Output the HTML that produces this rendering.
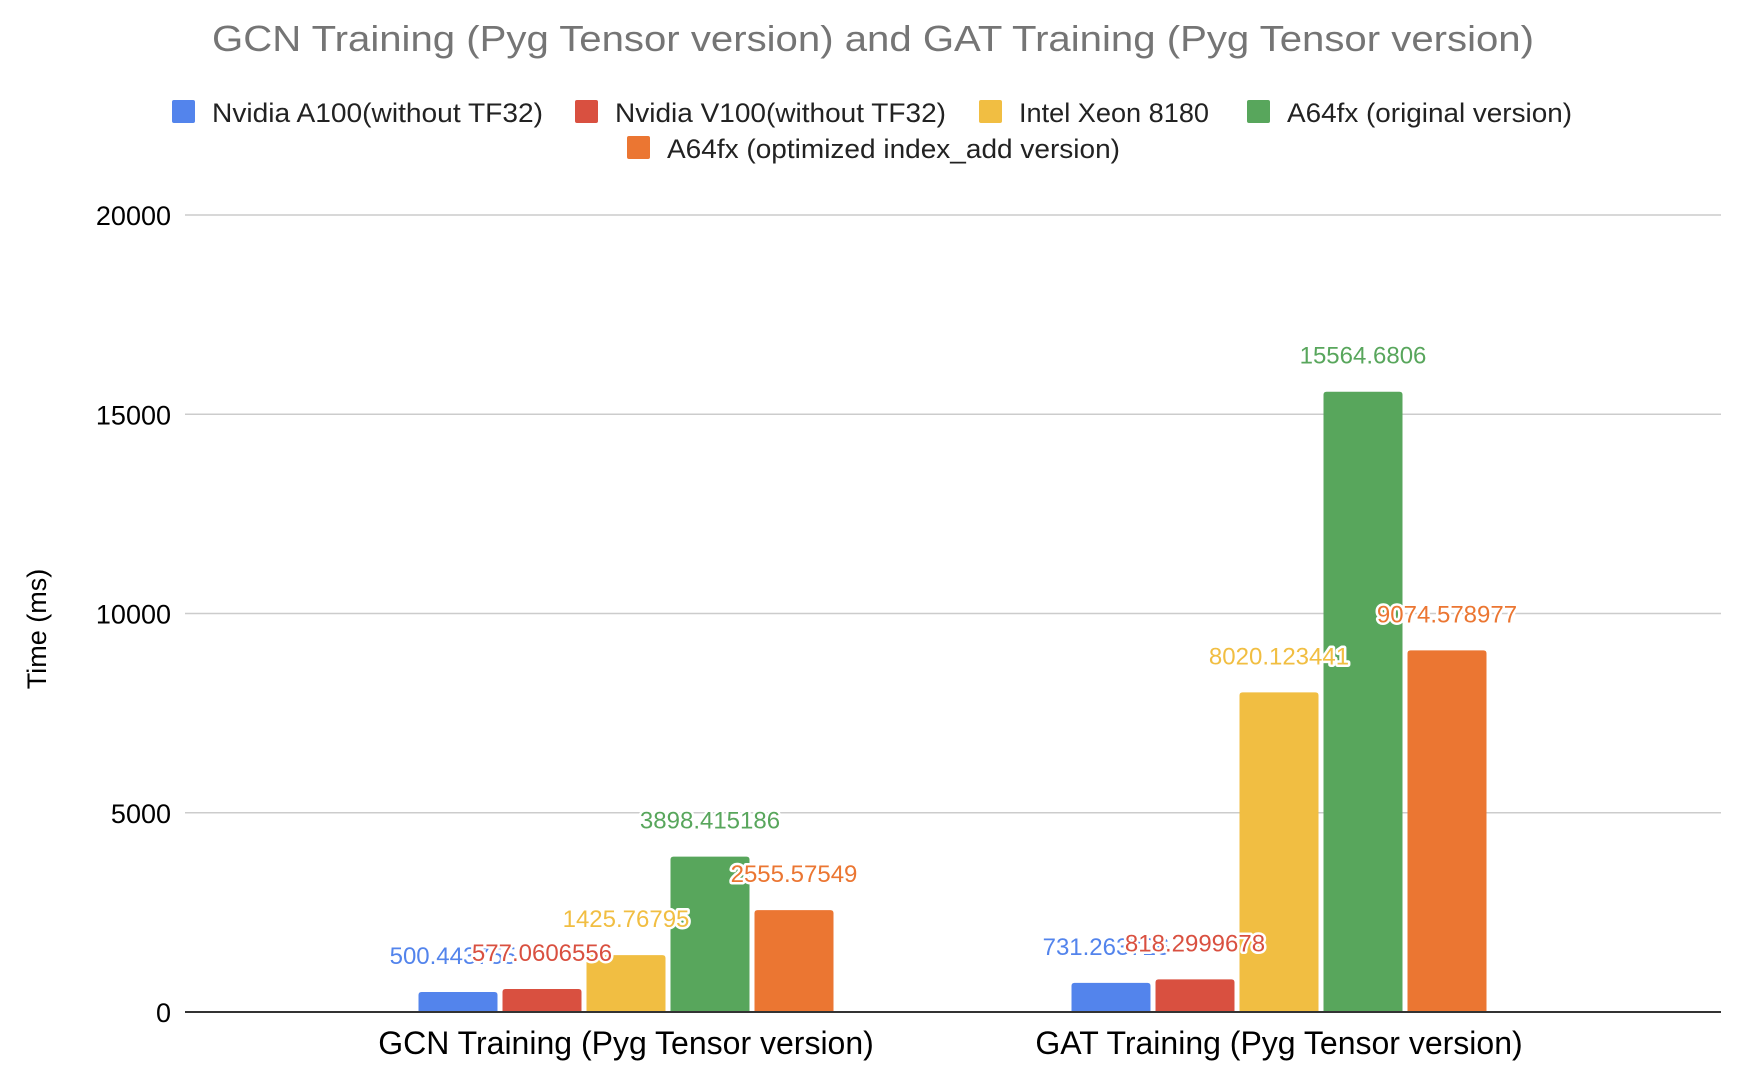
<!DOCTYPE html>
<html><head><meta charset="utf-8"><style>
html,body{margin:0;padding:0;background:#fff;}
svg{display:block;font-family:"Liberation Sans",Arial,sans-serif;}
.lbl{paint-order:stroke;stroke:#fff;stroke-width:5px;stroke-linejoin:round;}
</style></head><body>
<svg id="chart" width="1746" height="1080" viewBox="0 0 1746 1080">
<text x="873" y="51" text-anchor="middle" font-size="36" fill="#757575" textLength="1322" lengthAdjust="spacingAndGlyphs">GCN Training (Pyg Tensor version) and GAT Training (Pyg Tensor version)</text>
<g id="legend"></g>
<g id="grid"></g>
<g id="bars"></g>
<text transform="translate(46,629) rotate(-90)" text-anchor="middle" font-size="27" fill="#000">Time (ms)</text>
</svg>
<script>
const categories = ["GCN Training (Pyg Tensor version)", "GAT Training (Pyg Tensor version)"];
const seriesNames = ["Nvidia A100(without TF32)", "Nvidia V100(without TF32)", "Intel Xeon 8180", "A64fx (original version)", "A64fx (optimized index_add version)"];
const seriesColors = ["#5384ec", "#d95040", "#f1be42", "#58a65c", "#eb7632"];
const a100 = [500.443755, 731.263726];
const v100 = [577.0606556, 818.2999678];
const xeon = [1425.76795, 8020.123441];
const a64orig = [3898.415186, 15564.6806];
const a64opt = [2555.57549, 9074.578977];
const valueLabels = [["500.443755","731.263726"],["577.0606556","818.2999678"],["1425.76795","8020.123441"],["3898.415186","15564.6806"],["2555.57549","9074.578977"]];
const yTicks = [0, 5000, 10000, 15000, 20000];
const allSeries = [a100, v100, xeon, a64orig, a64opt];

const NS = "http://www.w3.org/2000/svg";
const plotL = 185, plotR = 1721, yBase = 1012, yTop = 215, yMax = 20000;
const bandStart = 299.5, band = 653, barW = 79, barStep = 84;
function yScale(v){ return yBase - (v / yMax) * (yBase - yTop); }
function xCenter(ci, si){ return bandStart + band * (ci + 0.5) + (si - 2) * barStep; }
function mk(tag, attrs, parent){ const e = document.createElementNS(NS, tag); for (const k in attrs) e.setAttribute(k, attrs[k]); parent.appendChild(e); return e; }

const grid = document.getElementById('grid');
yTicks.forEach(t => {
  const y = yScale(t);
  if (t !== 0) {
    const l = mk('line', {x1: plotL, x2: plotR, y1: y, y2: y, stroke: '#cccccc', 'stroke-width': 1.5}, grid);
    
    
  }
  const tx = mk('text', {x: 171, y: y + 10, 'text-anchor': 'end', 'font-size': 27, fill: '#000'}, grid);
  tx.textContent = String(t);
  
  
});

const bars = document.getElementById('bars');
allSeries.forEach((vals, si) => {
  vals.forEach((v, ci) => {
    const cx = xCenter(ci, si), y = yScale(v);
    const p = mk('path', {d: `M${cx-barW/2},${yBase} V${y+3} Q${cx-barW/2},${y} ${cx-barW/2+3},${y} H${cx+barW/2-3} Q${cx+barW/2},${y} ${cx+barW/2},${y+3} V${yBase} Z`, fill: seriesColors[si]}, bars);
    
    
  });
});
const base = mk('line', {x1: plotL, x2: plotR, y1: yBase, y2: yBase, stroke: '#333', 'stroke-width': 2}, bars);


allSeries.forEach((vals, si) => {
  vals.forEach((v, ci) => {
    const t = mk('text', {x: xCenter(ci, si) - (si === 0 ? 5 : 0), y: yScale(v) - 28, 'text-anchor': 'middle', 'font-size': 24, fill: seriesColors[si], class: 'lbl'}, bars);
    t.textContent = valueLabels[si][ci];
    
    
  });
});
categories.forEach((c, ci) => {
  const t = mk('text', {x: bandStart + band * (ci + 0.5), y: 1054, 'text-anchor': 'middle', 'font-size': 32, fill: '#000'}, bars);
  t.textContent = c;
  
  
});

const legend = document.getElementById('legend');
const legPos = [[172,122,331],[575,122,331],[979,122,190],[1247,122,285],[627,158,453]];
seriesNames.forEach((n, i) => {
  const [x, yb, w] = legPos[i];
  const r = mk('rect', {x: x, y: yb - 22, width: 23, height: 23, rx: 2, fill: seriesColors[i]}, legend);
  
  
  const t = mk('text', {x: x + 40, y: yb, 'font-size': 27, fill: '#222', textLength: w, lengthAdjust: 'spacingAndGlyphs'}, legend);
  t.textContent = n;
  
  
});
</script>
</body></html>
